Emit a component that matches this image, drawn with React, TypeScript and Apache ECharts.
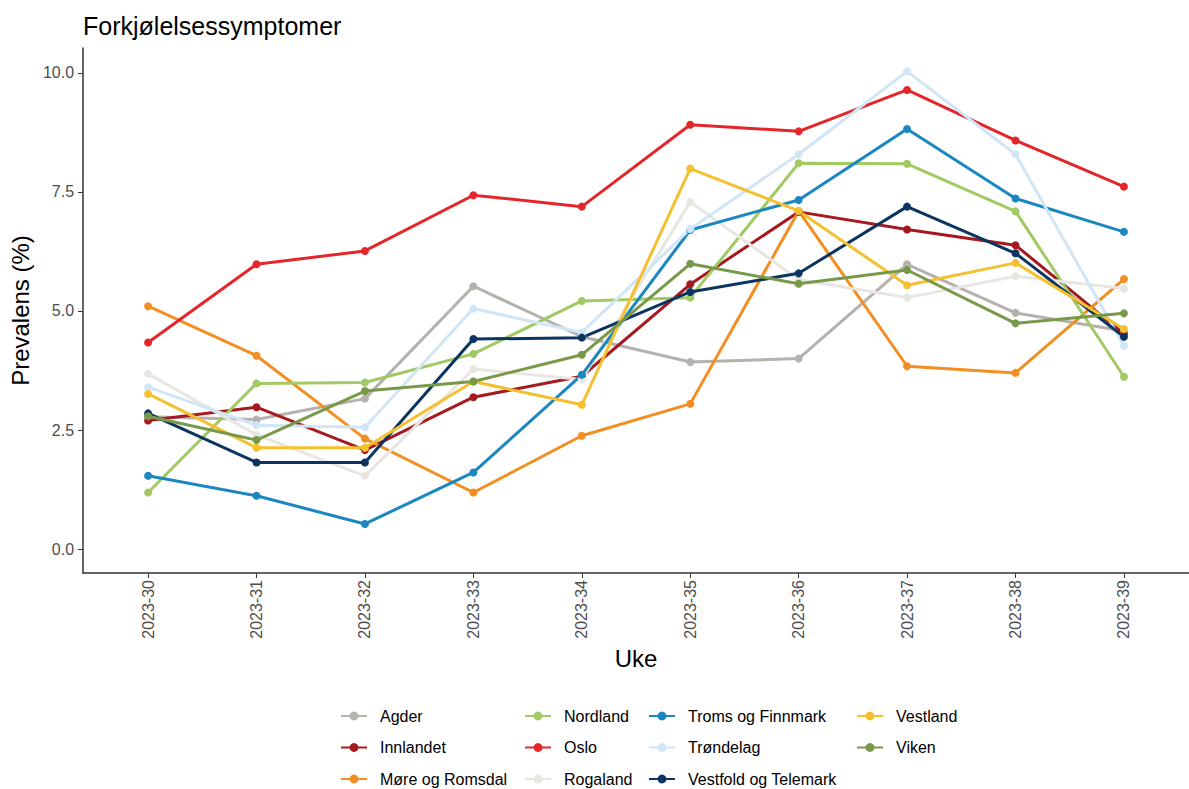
import React, { useEffect, useRef } from "react";
import * as echarts from "echarts";

const weeks = ["2023-30", "2023-31", "2023-32", "2023-33", "2023-34", "2023-35", "2023-36", "2023-37", "2023-38", "2023-39"];

const agder = [2.78, 2.72, 3.16, 5.52, 4.46, 3.93, 4.0, 5.98, 4.96, 4.58];
const innlandet = [2.7, 2.98, 2.08, 3.19, 3.63, 5.56, 7.08, 6.71, 6.38, 4.52];
const moreOgRomsdal = [5.1, 4.06, 2.32, 1.19, 2.38, 3.05, 7.1, 3.84, 3.7, 5.67];
const nordland = [1.19, 3.48, 3.5, 4.1, 5.21, 5.28, 8.1, 8.09, 7.09, 3.62];
const oslo = [4.34, 5.98, 6.26, 7.43, 7.19, 8.91, 8.77, 9.64, 8.58, 7.61];
const rogaland = [3.68, 2.4, 1.54, 3.78, 3.56, 7.29, 5.66, 5.28, 5.73, 5.47];
const tromsOgFinnmark = [1.54, 1.12, 0.53, 1.61, 3.66, 6.7, 7.33, 8.82, 7.36, 6.66];
const trondelag = [3.4, 2.6, 2.56, 5.05, 4.55, 6.72, 8.29, 10.03, 8.29, 4.27];
const vestfoldOgTelemark = [2.85, 1.82, 1.82, 4.41, 4.44, 5.4, 5.79, 7.19, 6.21, 4.46];
const vestland = [3.26, 2.13, 2.13, 3.52, 3.03, 7.99, 7.1, 5.54, 6.01, 4.62];
const viken = [2.79, 2.29, 3.32, 3.52, 4.08, 5.99, 5.57, 5.86, 4.74, 4.95];

const regionNames = [
  "Agder", "Innlandet", "Møre og Romsdal", "Nordland", "Oslo", "Rogaland",
  "Troms og Finnmark", "Trøndelag", "Vestfold og Telemark", "Vestland", "Viken",
];
const regionValues = [
  agder, innlandet, moreOgRomsdal, nordland, oslo, rogaland,
  tromsOgFinnmark, trondelag, vestfoldOgTelemark, vestland, viken,
];
const regionColors = [
  "#b5b1ad", "#a6191e", "#f28e22", "#a1c964", "#e4262a", "#e8e6e1",
  "#1a87c1", "#d0e5f5", "#0b3560", "#f5c030", "#79994a",
];

const yTicks = [0, 2.5, 5, 7.5, 10];
const legendColumns = [
  ["Agder", "Innlandet", "Møre og Romsdal"],
  ["Nordland", "Oslo", "Rogaland"],
  ["Troms og Finnmark", "Trøndelag", "Vestfold og Telemark"],
  ["Vestland", "Viken"],
];
const legendLefts = [340, 524, 648, 856];

export default function App() {
  const ref = useRef<HTMLDivElement>(null);
  useEffect(() => {
    document.body.style.margin = "0";
    if (!ref.current) return;
    const chart = echarts.init(ref.current, undefined, { renderer: "svg" });
    const xIdx = weeks.map((_, i) => i);
    const option: any = {
      animation: false,
      backgroundColor: "#ffffff",
      textStyle: { fontFamily: "Liberation Sans, Arial, sans-serif" },
      title: {
        text: "Forkjølelsessymptomer",
        left: 78,
        top: 8,
        textStyle: { fontSize: 25, fontWeight: "normal", color: "#000000", fontFamily: "Liberation Sans, Arial, sans-serif" },
      },
      legend: legendColumns.map((col, ci) => ({
        data: col,
        orient: "vertical",
        left: legendLefts[ci],
        top: 708,
        height: 81,
        padding: 0,
        itemWidth: 26,
        itemHeight: 11,
        itemGap: 15.5,
        textStyle: { fontSize: 16, color: "#000000", padding: [0, 0, 0, 8], fontFamily: "Liberation Sans, Arial, sans-serif" },
      })),
      grid: { left: 83, top: 48, width: 1119, height: 525, containLabel: false },
      xAxis: {
        type: "value",
        min: -0.6,
        max: 9.6,
        name: "Uke",
        nameLocation: "middle",
        nameGap: 67,
        nameTextStyle: { fontSize: 24, color: "#000000" },
        axisLine: { show: true, onZero: false, lineStyle: { color: "#333333", width: 1.5 } },
        axisTick: { show: true, customValues: xIdx, length: 5, lineStyle: { color: "#333333" } },
        axisLabel: {
          customValues: xIdx,
          rotate: 90,
          margin: 7,
          fontSize: 16,
          color: "#4d4d4d",
          formatter: (v: number) => weeks[Math.round(v)] ?? "",
        },
        splitLine: { show: false },
      },
      yAxis: {
        type: "value",
        min: -0.5,
        max: 10.52,
        name: "Prevalens (%)",
        nameLocation: "middle",
        nameGap: 38,
        nameTextStyle: { fontSize: 24, color: "#000000" },
        axisLine: { show: true, onZero: false, lineStyle: { color: "#333333", width: 1.5 } },
        axisTick: { show: true, customValues: yTicks, length: 5, lineStyle: { color: "#333333" } },
        axisLabel: {
          customValues: yTicks,
          margin: 9,
          fontSize: 16,
          color: "#4d4d4d",
          formatter: (v: number) => v.toFixed(1),
        },
        splitLine: { show: false },
      },
      series: regionNames.map((name, si) => ({
        name,
        type: "line",
        data: regionValues[si].map((v, i) => [i, v]),
        symbol: "circle",
        symbolSize: 8,
        lineStyle: { width: 3, color: regionColors[si] },
        itemStyle: { color: regionColors[si] },
        emphasis: { disabled: true },
      })),
    };
    chart.setOption(option);
    return () => chart.dispose();
  }, []);
  return <div ref={ref} style={{ width: 1189, height: 789 }} />;
}
